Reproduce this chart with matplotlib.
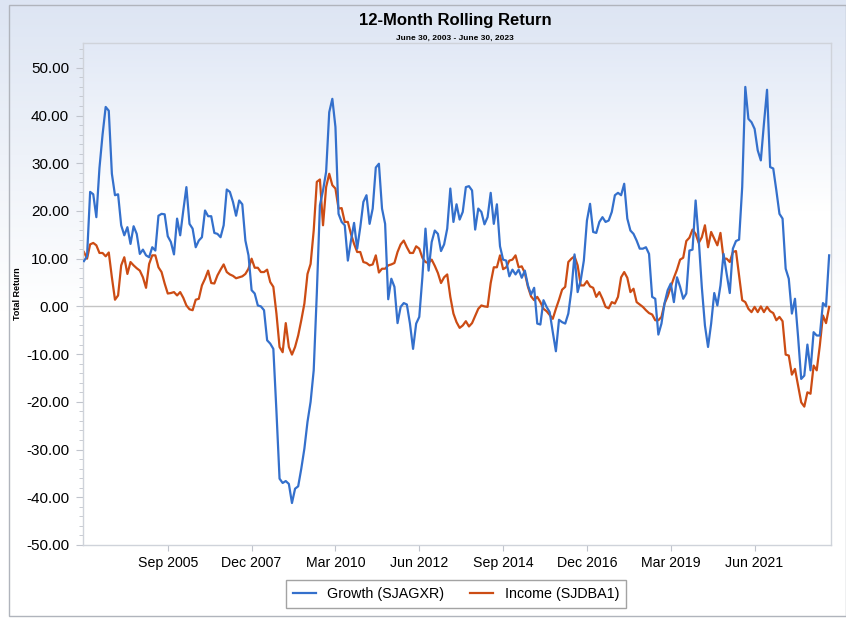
import matplotlib.pyplot as plt
import numpy as np
from matplotlib.colors import LinearSegmentedColormap
from matplotlib.patches import Rectangle

# monthly 12-month rolling returns, Jun 2003 .. Jun 2023 (241 points)
growth = [
    9.5, 10.5, 24.0, 23.5, 18.7, 29.0, 36.0, 41.8, 41.0, 27.8,
    23.3, 23.5, 17.0, 14.9, 16.6, 13.1, 16.8, 15.2, 11.0, 11.9,
    10.7, 10.3, 12.4, 11.7, 19.0, 19.4, 19.3, 14.7, 13.5, 10.9,
    18.4, 14.9, 20.1, 25.0, 17.3, 16.3, 12.4, 13.8, 14.5, 20.1,
    18.9, 18.9, 15.4, 15.2, 14.5, 17.0, 24.5, 24.0, 21.9, 19.0,
    22.2, 21.4, 13.8, 10.7, 3.4, 2.7, 0.2, 0.0, -0.8, -7.1,
    -7.8, -8.9, -22.0, -36.1, -37.0, -36.6, -37.2, -41.2, -38.2, -37.7,
    -34.0, -29.8, -24.2, -20.0, -13.4, 2.7, 21.2, 24.3, 28.2, 40.7,
    43.5, 37.6, 19.4, 17.7, 17.0, 9.6, 13.8, 17.5, 12.1, 16.6,
    21.9, 23.3, 17.3, 20.5, 29.1, 29.9, 20.5, 17.3, 1.5, 5.8,
    4.1, -3.5, -0.1, 0.7, 0.4, -3.6, -8.9, -3.6, -2.2, 6.1,
    16.3, 7.5, 13.5, 15.9, 15.2, 11.6, 13.0, 16.3, 24.7, 17.7,
    21.4, 18.2, 19.8, 25.0, 25.2, 24.3, 16.1, 20.5, 19.8, 17.2,
    18.7, 23.8, 17.3, 21.4, 12.6, 9.8, 9.6, 6.3, 7.7, 6.7,
    7.7, 6.0, 7.5, 4.4, 2.5, 3.9, -3.6, -3.8, 1.3, -0.1,
    -1.2, -5.4, -9.4, -2.8, -3.3, -3.6, -1.5, 3.4, 10.9, 3.0,
    5.5, 9.6, 18.0, 21.5, 15.6, 15.4, 17.7, 18.7, 17.7, 18.0,
    19.8, 23.3, 23.8, 23.3, 25.7, 18.4, 15.9, 15.2, 13.8, 12.1,
    12.1, 12.4, 11.0, 2.0, 1.6, -5.9, -3.6, 0.7, 3.4, 4.8,
    0.9, 6.1, 4.1, 1.6, 2.7, 11.7, 11.9, 22.2, 14.0, 4.0,
    -4.0, -8.5, -3.6, 2.8, 0.2, 4.4, 11.0, 6.8, 2.8, 12.1,
    13.7, 14.0, 25.0, 46.0, 39.3, 38.6, 37.2, 32.7, 30.6, 38.3,
    45.4, 29.2, 28.9, 24.3, 19.4, 18.4, 7.9, 5.8, -1.5, 1.6,
    -6.4, -15.2, -14.5, -8.0, -13.4, -5.4, -6.1, -6.1, 0.7, 0.0,
    10.7,
]
income = [
    11.4, 10.0, 13.0, 13.3, 12.8, 11.2, 11.2, 10.5, 11.3, 6.1,
    1.4, 2.3, 8.6, 10.3, 6.8, 9.3, 8.6, 8.0, 7.5, 6.1,
    3.9, 8.9, 10.7, 10.7, 8.2, 7.2, 4.8, 2.7, 2.8, 3.0,
    2.3, 3.0, 1.8, 0.2, -0.6, -0.8, 1.4, 1.6, 4.4, 5.8,
    7.5, 4.9, 4.8, 6.5, 7.7, 8.8, 7.2, 6.7, 6.4, 5.9,
    6.1, 6.3, 6.8, 7.9, 10.0, 8.1, 8.1, 7.2, 7.2, 7.7,
    5.1, 4.1, -1.5, -8.5, -9.6, -3.5, -8.5, -10.1, -8.5, -6.1,
    -2.9, 0.6, 6.8, 8.9, 15.9, 26.1, 26.6, 17.0, 25.0, 27.8,
    25.4, 24.7, 20.5, 20.6, 17.7, 17.7, 15.2, 13.1, 11.4, 11.4,
    9.3, 9.1, 8.6, 8.8, 10.7, 7.1, 7.9, 7.9, 8.6, 8.8,
    9.1, 11.4, 13.0, 13.8, 12.4, 11.2, 11.2, 12.6, 12.1, 10.2,
    9.3, 9.1, 9.8, 8.5, 7.0, 4.9, 6.1, 6.7, 2.0, -1.5,
    -3.3, -4.5, -4.0, -3.1, -4.2, -3.5, -2.0, -0.5, 0.2, 0.0,
    -0.1, 4.9, 8.2, 8.2, 10.7, 7.8, 8.2, 9.6, 9.8, 10.7,
    8.2, 8.4, 7.0, 4.1, 2.1, 1.3, 2.0, 0.9, -0.5, -1.0,
    -1.8, -2.6, -0.5, 1.4, 3.5, 4.1, 9.3, 10.0, 10.5, 8.6,
    4.4, 4.4, 5.3, 4.2, 3.9, 2.0, 3.0, 1.6, -0.1, -0.4,
    0.9, 0.6, 2.0, 6.1, 7.2, 6.0, 3.0, 3.7, 0.9, 0.4,
    -0.1, -0.8, -1.4, -1.7, -2.9, -2.9, -2.2, 0.6, 2.1, 4.1,
    6.0, 7.7, 9.8, 10.2, 13.7, 14.4, 16.1, 15.2, 13.3, 14.5,
    17.0, 12.4, 15.6, 14.2, 12.8, 15.4, 10.0, 10.0, 9.3, 11.4,
    11.6, 6.5, 1.3, 0.9, -0.5, -1.2, -0.1, -1.2, 0.0, -1.2,
    -0.1, -1.0, -1.4, -2.9, -2.2, -3.1, -10.1, -10.3, -14.3, -13.1,
    -16.6, -20.1, -21.0, -18.0, -18.3, -12.4, -13.4, -8.2, -1.9, -3.5,
    -0.1,
]
tick_months = [27, 54, 81, 108, 135, 162, 189, 216]
tick_labels = ['Sep 2005', 'Dec 2007', 'Mar 2010', 'Jun 2012',
               'Sep 2014', 'Dec 2016', 'Mar 2019', 'Jun 2021']

plt.rcParams['font.family'] = ['Liberation Sans', 'DejaVu Sans']

W, H = 846, 619
fig = plt.figure(figsize=(W / 100, H / 100), dpi=100)
fig.patch.set_facecolor('white')

# outer panel with soft blue gradient
bg = fig.add_axes([0, 0, 1, 1], zorder=-10)
bg_cmap = LinearSegmentedColormap.from_list('bg', ['#ffffff', '#ffffff', '#dde5f3'])
bg.imshow(np.linspace(0, 1, 256).reshape(-1, 1), cmap=bg_cmap, origin='lower',
          extent=[0, 1, 0, 1], aspect='auto')
bg.set_xlim(0, 1)
bg.set_ylim(0, 1)
bg.axis('off')
bg.add_patch(Rectangle((9 / W, 1 - 616 / H), (W - 9) / W, (611) / H,
                       fill=False, edgecolor='#b0b4bc', lw=1))

x0, x1, y0, y1 = 83, 831, 43, 545
ax = fig.add_axes([x0 / W, 1 - y1 / H, (x1 - x0) / W, (y1 - y0) / H])
ax.set_xlim(-0.3, 240.6)
ax.set_ylim(-50, 55.2)

pa_cmap = LinearSegmentedColormap.from_list('pa', ['#ffffff', '#ffffff', '#ffffff', '#e2e9f6'])
ax.imshow(np.linspace(0, 1, 256).reshape(-1, 1), cmap=pa_cmap, origin='lower',
          extent=[-0.3, 240.6, -50, 55.2], aspect='auto', zorder=0)

months = np.arange(len(growth))
ax.axhline(0, color='#c4c4c4', lw=1, zorder=1)
ax.plot(months, growth, color='#3470cc', lw=1.6, label='Growth (SJAGXR)', zorder=3)
ax.plot(months, income, color='#cc4c14', lw=1.6, label='Income (SJDBA1)', zorder=2)

for s in ax.spines.values():
    s.set_color('#cfd3da')
    s.set_linewidth(1)

ax.set_yticks(np.arange(-50, 51, 10))
ax.set_yticklabels(['%.2f' % v for v in np.arange(-50, 51, 10)], fontsize=11)
ax.set_yticks(np.arange(-50, 55, 2), minor=True)
ax.tick_params(axis='y', which='major', length=5, color='#c0c4cc', pad=5)
ax.tick_params(axis='y', which='minor', length=3, color='#c0c4cc')
ax.set_xticks(tick_months)
ax.set_xticklabels(tick_labels, fontsize=10.2)
ax.tick_params(axis='x', length=4, color='#c0c4cc', pad=4)
ax.set_ylabel('Total Return', fontsize=6.5, fontweight='bold')
ax.yaxis.set_label_coords((22 - x0) / (x1 - x0), 0.5)

fig.text(455 / W, 1 - 20 / H, '12-Month Rolling Return', ha='center', va='center',
         fontsize=12, fontweight='bold')
fig.text(455 / W, 1 - 38 / H, 'June 30, 2003 - June 30, 2023', ha='center', va='center',
         fontsize=6, fontweight='bold')

leg = fig.legend(loc='center', bbox_to_anchor=(456 / W, 1 - 594 / H), ncol=2,
                 fontsize=10.3, frameon=True, fancybox=False, handlelength=1.6,
                 columnspacing=1.8, borderpad=0.5)
leg.get_frame().set_edgecolor('#8c8c8c')
leg.get_frame().set_linewidth(1)

fig.savefig('out.png', dpi=100)
